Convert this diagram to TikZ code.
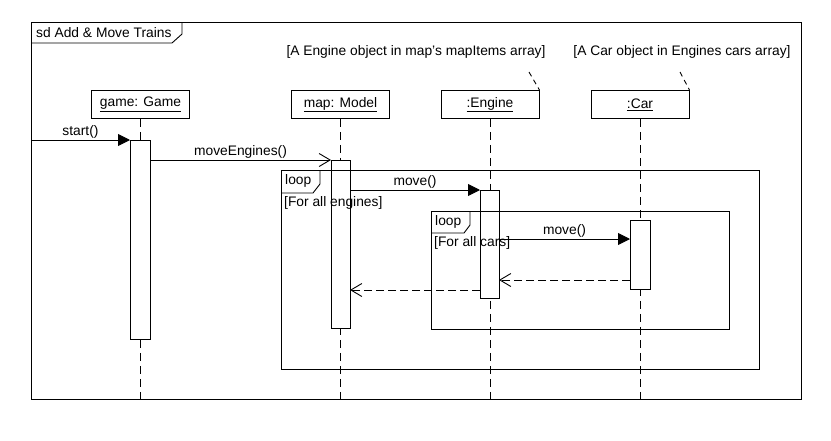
\documentclass[tikz,border=0pt]{standalone}
\usepackage{fontspec}
\setmainfont{Liberation Sans}
\usetikzlibrary{arrows.meta}
\begin{document}
\begin{tikzpicture}[x=1pt,y=-1pt,
  every node/.style={font=\fontsize{13.8}{15}\selectfont, inner sep=0pt},
  lifeline/.style={line width=0.9pt, dash pattern=on 8pt off 5pt},
  objbox/.style={draw, line width=0.9pt, fill=white, minimum width=98pt, minimum height=28pt, anchor=north},
  actbar/.style={draw, line width=0.9pt, fill=white},
  syncmsg/.style={line width=0.9pt, -{Triangle[length=12pt,width=12pt]}},
  asyncmsg/.style={line width=0.9pt, -{Straight Barb[length=11pt,width=13pt]}},
  replymsg/.style={line width=0.9pt, dash pattern=on 8pt off 4pt, -{Straight Barb[length=11pt,width=13pt,line width=0.9pt,sep=0pt]}},
  notelink/.style={line width=0.9pt, dash pattern=on 5pt off 4pt},
  msglabel/.style={midway, above=1.5pt},
  frameline/.style={line width=0.9pt}]
\useasboundingbox (0,0) rectangle (831,440);

% lifeline heads
\node[objbox] (game) at (140.5,90) {\underline{game: Game}};
\node[objbox] (map) at (340.5,90) {\underline{map: Model}};
\node[objbox] (eng) at (490,90) {\underline{:Engine}};
\node[objbox] (car) at (640,90) {\underline{:Car}};

% lifeline ends
\coordinate (gameEnd) at (140.5,401);
\coordinate (mapEnd) at (340.5,401);
\coordinate (engEnd) at (490,401);
\coordinate (carEnd) at (640,401);
\draw[lifeline] (game.south) -- (gameEnd);
\draw[lifeline] (map.south) -- (mapEnd);
\draw[lifeline] (eng.south) -- (engEnd);
\draw[lifeline] (car.south) -- (carEnd);

% activation bars
\draw[actbar] (130,140) rectangle (150,339);
\draw[actbar] (331,160) rectangle (350,328);
\draw[actbar] (480,190) rectangle (499,298);
\draw[actbar] (630,220) rectangle (650,289);
\coordinate (gA) at (130,140);
\coordinate (gB) at (150,160);
\coordinate (mA) at (331,160);
\coordinate (mB) at (350,190);
\coordinate (mC) at (350,290);
\coordinate (eA) at (480,190);
\coordinate (eB) at (499,239);
\coordinate (eC) at (499,280);
\coordinate (eD) at (480,290);
\coordinate (cA) at (630,239);
\coordinate (cB) at (630,280);

% outer diagram frame
\draw[frameline] (31,22) rectangle (801,399);
\draw[frameline] (31,43) -- (172,43) -- (182,34) -- (182,22);
\node[anchor=west] (title) at (36,33) {sd Add \& Move Trains};

% combined fragments
\draw[frameline] (281,170) rectangle (759,369);
\draw[frameline] (281,193) -- (313,193) -- (320,184) -- (320,170);
\node[anchor=west] (loopA) at (285,181) {loop};
\node[anchor=west] (guardA) at (284,203) {[For all engines]};

\draw[frameline] (431,211) rectangle (729,329);
\draw[frameline] (431,233) -- (464,233) -- (470,225) -- (470,211);
\node[anchor=west] (loopB) at (435,222) {loop};
\node[anchor=west] (guardB) at (434,243) {[For all cars]};

% messages
\coordinate (startSrc) at (31,140);
\draw[syncmsg] (startSrc) -- (gA) node[msglabel] (startLbl) {start()};
\draw[asyncmsg] (gB) -- (mA) node[msglabel] (meLbl) {moveEngines()};
\draw[syncmsg] (mB) -- (eA) node[msglabel] (mvA) {move()};
\draw[syncmsg] (eB) -- (cA) node[msglabel] (mvB) {move()};
\draw[replymsg] (cB) -- (eC);
\draw[replymsg] (eD) -- (mC);

% notes
\node (noteEng) at (416,52) {[A Engine object in map's mapItems array]};
\node (noteCar) at (682,52) {[A Car object in Engines cars array]};
\draw[notelink] (529,72) -- (eng.north east);
\draw[notelink] (680,72) -- (car.north east);
\end{tikzpicture}
\end{document}
